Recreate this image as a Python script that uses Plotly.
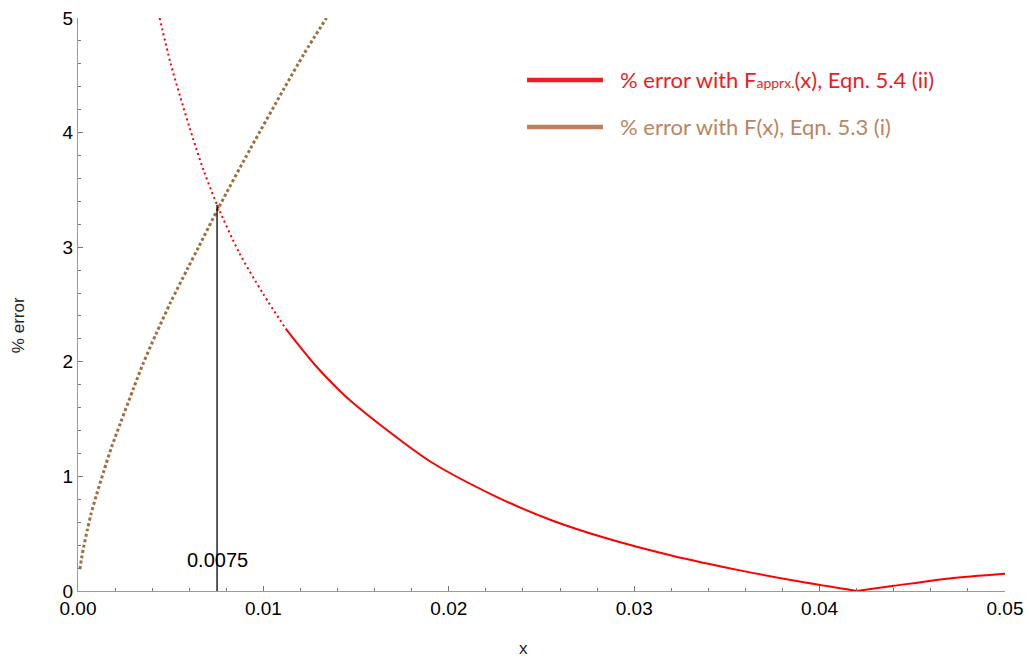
import plotly.graph_objects as go

# ---- data ----
red_x = [0.0044, 0.0050, 0.0055, 0.0062, 0.0068, 0.0075, 0.0087, 0.0100, 0.0112,
         0.0128, 0.0141, 0.0147, 0.0167, 0.0190, 0.0226, 0.0255, 0.0285, 0.0320,
         0.0357, 0.0390, 0.0420, 0.0440, 0.0470, 0.0500]
red_y = [5.00, 4.60, 4.32, 3.95, 3.66, 3.37, 2.95, 2.59, 2.29,
         1.97, 1.75, 1.66, 1.40, 1.13, 0.82, 0.62, 0.46, 0.31,
         0.18, 0.08, 0.00, 0.045, 0.11, 0.15]
red_split = 8    # index where the sampled points merge into a solid line
red_min = 20     # index of the cusp at zero error

brown_x = [0.0001, 0.0002, 0.0003, 0.0005, 0.0007, 0.0010, 0.0014, 0.0018, 0.0023,
           0.0030, 0.0035, 0.0042, 0.0050, 0.0059, 0.0065, 0.0076, 0.0093, 0.0111,
           0.0122, 0.0134]
brown_y = [0.19, 0.29, 0.38, 0.53, 0.67, 0.84, 1.05, 1.25, 1.47,
           1.77, 1.98, 2.24, 2.52, 2.81, 3.00, 3.35, 3.86, 4.38,
           4.69, 5.00]

cross_x = 0.0075
cross_y = 3.37
cross_label = "0.0075"

x_ticks = [0.00, 0.01, 0.02, 0.03, 0.04, 0.05]
x_tick_text = ["0.00", "0.01", "0.02", "0.03", "0.04", "0.05"]
y_ticks = [0, 1, 2, 3, 4, 5]

legend_red = "% error with F<span style='font-size:14px'>apprx.</span>(x), Eqn. 5.4 (ii)"
legend_brown = "% error with F(x), Eqn. 5.3 (i)"

RED = "#FF0000"
BROWN = "#A06E3C"
LEG_RED = "#ED1C24"
LEG_BROWN = "#BE805A"
TXT_BROWN = "#BA8560"
TICK_FONT = dict(family="Liberation Sans", size=19, color="black")

fig = go.Figure()

def add_curve(xs, ys, color, width, dash):
    fig.add_trace(go.Scatter(x=xs, y=ys, mode="lines",
                             line=dict(color=color, width=width, dash=dash,
                                       shape="spline", smoothing=0.8),
                             showlegend=False, hoverinfo="skip"))

add_curve(red_x[:red_split + 1], red_y[:red_split + 1], RED, 2, "2px,3.2px")
add_curve(red_x[red_split:red_min + 1], red_y[red_split:red_min + 1], RED, 2, "solid")
add_curve(red_x[red_min:], red_y[red_min:], RED, 2, "solid")
add_curve(brown_x, brown_y, BROWN, 3, "3px,2.5px")

# vertical marker line at the crossing
fig.add_shape(type="line", xref="x", yref="y", x0=cross_x, x1=cross_x, y0=0, y1=cross_y,
              line=dict(color="black", width=1.3))
fig.add_annotation(x=cross_x, y=0.27, xref="x", yref="y", text=cross_label, showarrow=False,
                   font=dict(family="Liberation Sans", size=20, color="black"),
                   xanchor="center", yanchor="middle")

# custom legend
fig.add_shape(type="line", xref="paper", yref="paper", x0=0.4844, x1=0.5663, y0=0.8918, y1=0.8918,
              line=dict(color=LEG_RED, width=4.5))
fig.add_shape(type="line", xref="paper", yref="paper", x0=0.4844, x1=0.5663, y0=0.8098, y1=0.8098,
              line=dict(color=LEG_BROWN, width=4.5))
fig.add_annotation(x=0.5825, y=0.8918, xref="paper", yref="paper", text=legend_red, showarrow=False,
                   font=dict(family="Lato", size=22, color=LEG_RED), xanchor="left", yanchor="middle")
fig.add_annotation(x=0.5825, y=0.8098, xref="paper", yref="paper", text=legend_brown, showarrow=False,
                   font=dict(family="Lato", size=22, color=TXT_BROWN), xanchor="left", yanchor="middle")

# axis titles
fig.add_annotation(x=-0.0647, y=0.464, xref="paper", yref="paper", text="% error", showarrow=False,
                   textangle=-90, font=dict(family="Liberation Sans", size=17, color="#222"),
                   xanchor="center", yanchor="middle")
fig.add_annotation(x=0.481, y=-0.0995, xref="paper", yref="paper", text="x", showarrow=False,
                   font=dict(family="Liberation Sans", size=17, color="#222"),
                   xanchor="center", yanchor="middle")

axis_common = dict(showgrid=False, zeroline=False, showline=True, linecolor="#9a9a9a", linewidth=1,
                   ticks="inside", ticklen=5, tickcolor="#777", tickwidth=1,
                   tickfont=TICK_FONT, automargin=False)

fig.update_xaxes(range=[0, 0.05], tickvals=x_ticks, ticktext=x_tick_text,
                 minor=dict(ticks="inside", ticklen=3, dtick=0.002, tickcolor="#777"),
                 **axis_common)
fig.update_yaxes(range=[0, 5], tickvals=y_ticks,
                 minor=dict(ticks="inside", ticklen=3, dtick=0.2, tickcolor="#777"),
                 **axis_common)

fig.update_layout(width=1029, height=660,
                  margin=dict(l=78, r=24, t=18, b=69, autoexpand=False),
                  paper_bgcolor="white", plot_bgcolor="white")

fig.write_html("out.html")
